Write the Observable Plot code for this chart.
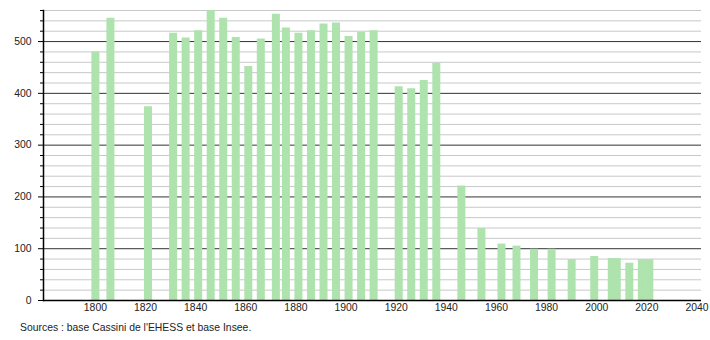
<!DOCTYPE html>
<html>
<head>
<meta charset="utf-8">
<script src="https://cdn.jsdelivr.net/npm/d3@7"></script>
<script src="https://cdn.jsdelivr.net/npm/@observablehq/plot@0.6"></script>
<style>
  html, body { margin: 0; padding: 0; background: #fff; }
  #wrap { position: relative; width: 710px; height: 340px; font-family: "Liberation Sans", Arial, sans-serif; }
  #caption { position: absolute; left: 20px; top: 322px; font-size: 10.4px; color: #222; white-space: nowrap; }
</style>
</head>
<body>
<div id="wrap">
  <div id="chart"></div>
  <div id="caption">Sources : base Cassini de l'EHESS et base Insee.</div>
</div>
<script>
const years = [1800, 1806, 1821, 1831, 1836, 1841, 1846, 1851, 1856, 1861, 1866, 1872, 1876, 1881, 1886, 1891, 1896, 1901, 1906, 1911, 1921, 1926, 1931, 1936, 1946, 1954, 1962, 1968, 1975, 1982, 1990, 1999, 2006, 2008, 2013, 2018, 2021];
const population = [480, 545, 374, 516, 507, 521, 560, 545, 508, 452, 505, 553, 526, 516, 521, 534, 536, 510, 518, 521, 413, 409, 425, 458, 221, 139, 109, 105, 99, 99, 79, 85, 81, 81, 72, 79, 79];
const xTicks = [1800, 1820, 1840, 1860, 1880, 1900, 1920, 1940, 1960, 1980, 2000, 2020, 2040];
const yMajor = [0, 100, 200, 300, 400, 500];
const yMinor = [20, 40, 60, 80, 120, 140, 160, 180, 220, 240, 260, 280, 320, 340, 360, 380, 420, 440, 460, 480, 520, 540, 560];

const data = years.map((y, i) => ({year: y, pop: population[i]}));

const chart = Plot.plot({
  width: 710,
  height: 318,
  marginLeft: 43,
  marginRight: 9,
  marginTop: 10,
  marginBottom: 18,
  style: {fontFamily: "'Liberation Sans', Arial, sans-serif", fontSize: "10.4px", color: "#222", background: "#fff"},
  x: {type: "linear", domain: [1779.3, 2041.8]},
  y: {domain: [0, 560]},
  marks: [
    Plot.ruleY(yMinor, {stroke: "#c8c8c8", strokeWidth: 1}),
    Plot.ruleY(yMajor, {stroke: "#333", strokeWidth: 1}),
    Plot.ruleX(data, {x: "year", y1: 0, y2: "pop", stroke: "#aee3ae", strokeWidth: 8}),
    Plot.ruleY([0], {stroke: "#000", strokeWidth: 1.5}),
    Plot.frame({anchor: "left", stroke: "#000", strokeWidth: 1.5}),
    Plot.axisY(yMinor, {tickSize: 3, text: null, label: null, stroke: "#000"}),
    Plot.axisY(yMajor, {tickSize: 5, tickPadding: 7, label: null, stroke: "#000", fill: "#222"}),
    Plot.axisX(xTicks, {tickSize: 0, tickPadding: 3, label: null, tickFormat: d => String(d), fill: "#222"})
  ]
});
document.getElementById("chart").appendChild(chart);
</script>
</body>
</html>
